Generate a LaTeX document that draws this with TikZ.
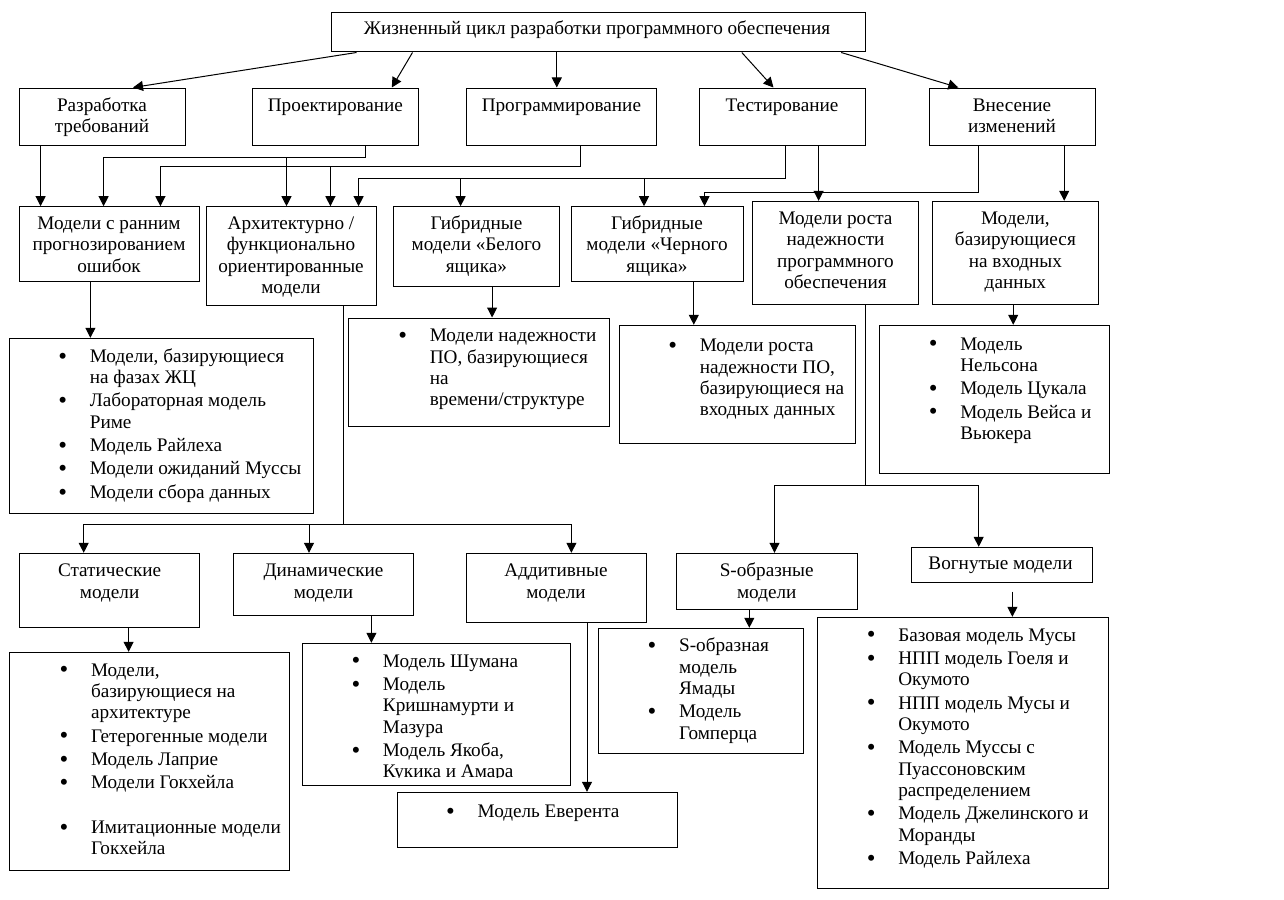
\documentclass[tikz,border=0pt]{standalone}
\usepackage{fontspec}
\usepackage{graphicx}
\setmainfont{Liberation Serif}
\usetikzlibrary{arrows.meta,fit}
\newcommand\hd[1]{\begin{tabular}[t]{@{}c@{}}#1\end{tabular}}
\newcommand\bl[1]{\begin{tabular}[t]{@{}p{23.6pt}@{}l@{}}#1\end{tabular}}
\newcommand\bu{\raisebox{-1.3pt}{\scalebox{1.3}{\textbullet}}}
\begin{document}
\begin{tikzpicture}[x=0.75pt,y=-0.75pt, line width=0.75pt,
 box/.style={draw, inner sep=0pt},
 txt/.style={inner sep=0pt, anchor=base, font=\fontsize{14.4}{16}\selectfont},
 lst/.style={inner sep=0pt, anchor=base west, font=\fontsize{14.4}{16}\selectfont},
 arr/.style={-{Triangle[length=7.5pt,width=7.5pt]}}]
\useasboundingbox (0,0) rectangle (1284,899);

% ---------- boxes ----------
\node[box, fit={(331,13) (865,52)}] (top) {};
\node[txt] (ttop) at (597,35) {Жизненный цикл разработки программного обеспечения};

\node[box, fit={(19.5,88) (185.3,145.3)}] (req) {};
\node[txt] (treq) at (102,111) {\hd{Разработка\\требований}};
\node[box, fit={(252.5,88) (418.3,145.3)}] (des) {};
\node[txt] (tdes) at (335.4,111) {Проектирование};
\node[box, fit={(466.4,88) (656.4,145.3)}] (prog) {};
\node[txt] (tprog) at (561.4,111) {Программирование};
\node[box, fit={(699.5,88) (865,145.3)}] (test) {};
\node[txt] (ttest) at (782,111) {Тестирование};
\node[box, fit={(929.5,88) (1095,145.3)}] (chg) {};
\node[txt] (tchg) at (1012,111) {\hd{Внесение\\изменений}};

\node[box, fit={(19.5,206.7) (199,281)}] (early) {};
\node[txt] (tearly) at (109,229.5) {\hd{Модели с ранним\\прогнозированием\\ошибок}};
\node[box, fit={(206.5,206.7) (376,305)}] (arch) {};
\node[txt] (tarch) at (291,229.5) {\hd{Архитектурно /\\функционально\\ориентированные\\модели}};
\node[box, fit={(393.5,206.7) (559.3,286)}] (white) {};
\node[txt] (twhite) at (476.4,229.5) {\hd{Гибридные\\модели «Белого\\ящика»}};
\node[box, fit={(571,206.7) (743,281)}] (black) {};
\node[txt] (tblack) at (657,229.5) {\hd{Гибридные\\модели «Черного\\ящика»}};
\node[box, fit={(752.5,201.3) (918.4,304.3)}] (growth) {};
\node[txt] (tgrowth) at (835.5,224.5) {\hd{Модели роста\\надежности\\программного\\обеспечения}};
\node[box, fit={(932.4,201.3) (1098.3,304.3)}] (input) {};
\node[txt] (tinput) at (1015.4,224.5) {\hd{Модели,\\базирующиеся\\на входных\\данных}};

\node[box, fit={(9,338.3) (313.5,513.3)}] (lA) {};
\node[lst] (tlA) at (57.9,362.3) {\bl{\bu & Модели, базирующиеся\\ & на фазах ЖЦ\\[1.5pt]
\bu & Лабораторная модель\\ & Риме\\[1.5pt]
\bu & Модель Райлеха\\[1.5pt]
\bu & Модели ожиданий Муссы\\[1.5pt]
\bu & Модели сбора данных}};
\node[box, fit={(348.2,318) (609.4,426.7)}] (lB) {};
\node[lst] (tlB) at (397.9,341.7) {\bl{\bu & Модели надежности\\ & ПО, базирующиеся\\ & на\\ & времени/структуре}};
\node[box, fit={(619.6,325.3) (855.2,443.3)}] (lC) {};
\node[lst] (tlC) at (667.8,351.7) {\bl{\bu & Модели роста\\ & надежности ПО,\\ & базирующиеся на\\ & входных данных}};
\node[box, fit={(879.7,325.3) (1109.2,473.3)}] (lD) {};
\node[lst] (tlD) at (928.3,350) {\bl{\bu & Модель\\ & Нельсона\\[1.5pt]
\bu & Модель Цукала\\[1.5pt]
\bu & Модель Вейса и\\ & Вьюкера}};

\node[box, fit={(19.6,553.3) (199.6,627.3)}] (stat) {};
\node[txt] (tstat) at (109.6,576.7) {\hd{Статические\\модели}};
\node[box, fit={(233.5,553.3) (413.5,615.3)}] (dyn) {};
\node[txt] (tdyn) at (323.5,576.7) {\hd{Динамические\\модели}};
\node[box, fit={(466.5,553.3) (646,622.3)}] (add) {};
\node[txt] (tadd) at (556,576.7) {\hd{Аддитивные\\модели}};
\node[box, fit={(676.4,553.3) (857,609.3)}] (sobr) {};
\node[txt] (tsobr) at (766.7,576.7) {\hd{S-образные\\модели}};
\node[box, fit={(911,547.3) (1092,582.3)}] (conc) {};
\node[txt] (tconc) at (1000.5,569.3) {Вогнутые модели};

\node[box, fit={(9,652.3) (289.4,870)}] (lE) {};
\node[lst] (tlE) at (59.1,676) {\bl{\bu & Модели,\\ & базирующиеся на\\ & архитектуре\\[1.5pt]
\bu & Гетерогенные модели\\[1.5pt]
\bu & Модель Лаприе\\[1.5pt]
\bu & Модели Гокхейла\\[1.5pt]
 & \\
\bu & Имитационные модели\\ & Гокхейла}};
\node[box, fit={(302,643.3) (570.2,785.3)}] (lF) {};
\begin{scope}
\clip (302,643.3) rectangle (570.2,777);
\node[lst] (tlF) at (351,667) {\bl{\bu & Модель Шумана\\[1.5pt]
\bu & Модель\\ & Кришнамурти и\\ & Мазура\\[1.5pt]
\bu & Модель Якоба,\\ & Кукика и Амара}};
\end{scope}
\node[box, fit={(397,792.3) (677.9,847.3)}] (lG) {};
\node[lst] (tlG) at (445.7,817.3) {\bl{\bu & Модель Еверента}};
\node[box, fit={(598,628.3) (803.6,753.3)}] (lH) {};
\node[lst] (tlH) at (647.2,651.7) {\bl{\bu & S-образная\\ & модель\\ & Ямады\\[1.5pt]
\bu & Модель\\ & Гомперца}};
\node[box, fit={(817,617.3) (1108.5,888.3)}] (lI) {};
\node[lst] (tlI) at (866.3,641) {\bl{\bu & Базовая модель Мусы\\[1.5pt]
\bu & НПП модель Гоеля и\\ & Окумото\\[1.5pt]
\bu & НПП модель Мусы и\\ & Окумото\\[1.5pt]
\bu & Модель Муссы с\\ & Пуассоновским\\ & распределением\\[1.5pt]
\bu & Модель Джелинского и\\ & Моранды\\[1.5pt]
\bu & Модель Райлеха}};

% ---------- connector coordinates ----------
\coordinate (t1) at (356.5,0); \coordinate (t2) at (412.5,0); \coordinate (t3) at (556.8,0);
\coordinate (t4) at (741.8,0); \coordinate (t5) at (841.2,0);
\coordinate (h1) at (133,0); \coordinate (h2) at (391.8,0); \coordinate (h4) at (773.5,0); \coordinate (h5) at (958.3,0);
\coordinate (d1) at (40.6,0);
\coordinate (jP) at (365.7,157.3); \coordinate (d2) at (103.6,0); \coordinate (d3) at (286.5,0);
\coordinate (jR) at (580.4,166.3); \coordinate (d4) at (160.4,0); \coordinate (d5) at (330.4,0);
\coordinate (jT) at (785.4,178.3); \coordinate (d6) at (358.6,0); \coordinate (d7) at (460.6,0); \coordinate (d8) at (644,0);
\coordinate (d9) at (818.6,0);
\coordinate (jV) at (978.8,192.3); \coordinate (d10) at (704.5,0);
\coordinate (d11) at (1064.2,0);
\coordinate (d12) at (90.4,0); \coordinate (d13) at (492.1,0); \coordinate (d14) at (693.8,0); \coordinate (d15) at (1013.2,0);
\coordinate (jA) at (343.3,524); \coordinate (d16) at (83.7,0); \coordinate (d17) at (309,0); \coordinate (d18) at (571.4,0);
\coordinate (jG) at (865.3,485.3); \coordinate (d19) at (774.5,0); \coordinate (d20) at (978.7,0);
\coordinate (d21) at (128.6,0); \coordinate (d22) at (371.4,0); \coordinate (d23) at (587,0); \coordinate (d24) at (749.3,0);
\coordinate (c25) at (1012.4,591.7);

% ---------- connectors ----------
\draw[arr] (top.south -| t1) -- (req.north -| h1);
\draw[arr] (top.south -| t2) -- (des.north -| h2);
\draw[arr] (top.south -| t3) -- (prog.north -| t3);
\draw[arr] (top.south -| t4) -- (test.north -| h4);
\draw[arr] (top.south -| t5) -- (chg.north -| h5);

\draw[arr] (req.south -| d1) -- (early.north -| d1);
\draw[arr] (des.south -| jP) -- (jP) -| (early.north -| d2);
\draw[arr] (jP -| d3) -- (arch.north -| d3);
\draw[arr] (prog.south -| jR) -- (jR) -| (early.north -| d4);
\draw[arr] (jR -| d5) -- (arch.north -| d5);
\draw[arr] (test.south -| jT) -- (jT) -| (arch.north -| d6);
\draw[arr] (jT -| d7) -- (white.north -| d7);
\draw[arr] (jT -| d8) -- (black.north -| d8);
\draw[arr] (test.south -| d9) -- (growth.north -| d9);
\draw[arr] (chg.south -| jV) -- (jV) -| (black.north -| d10);
\draw[arr] (chg.south -| d11) -- (input.north -| d11);

\draw[arr] (early.south -| d12) -- (lA.north -| d12);
\draw[arr] (white.south -| d13) -- (lB.north -| d13);
\draw[arr] (black.south -| d14) -- (lC.north -| d14);
\draw[arr] (input.south -| d15) -- (lD.north -| d15);

\draw (arch.south -| jA) -- (jA);
\draw[arr] (jA) -| (stat.north -| d16);
\draw[arr] (jA -| d17) -- (dyn.north -| d17);
\draw[arr] (jA) -| (add.north -| d18);

\draw (growth.south -| jG) -- (jG);
\draw[arr] (jG) -| (sobr.north -| d19);
\draw[arr] (jG) -| (conc.north -| d20);

\draw[arr] (stat.south -| d21) -- (lE.north -| d21);
\draw[arr] (dyn.south -| d22) -- (lF.north -| d22);
\draw[arr] (add.south -| d23) -- (lG.north -| d23);
\draw[arr] (sobr.south -| d24) -- (lH.north -| d24);
\draw[arr] (c25) -- (lI.north -| c25);
\end{tikzpicture}
\end{document}
